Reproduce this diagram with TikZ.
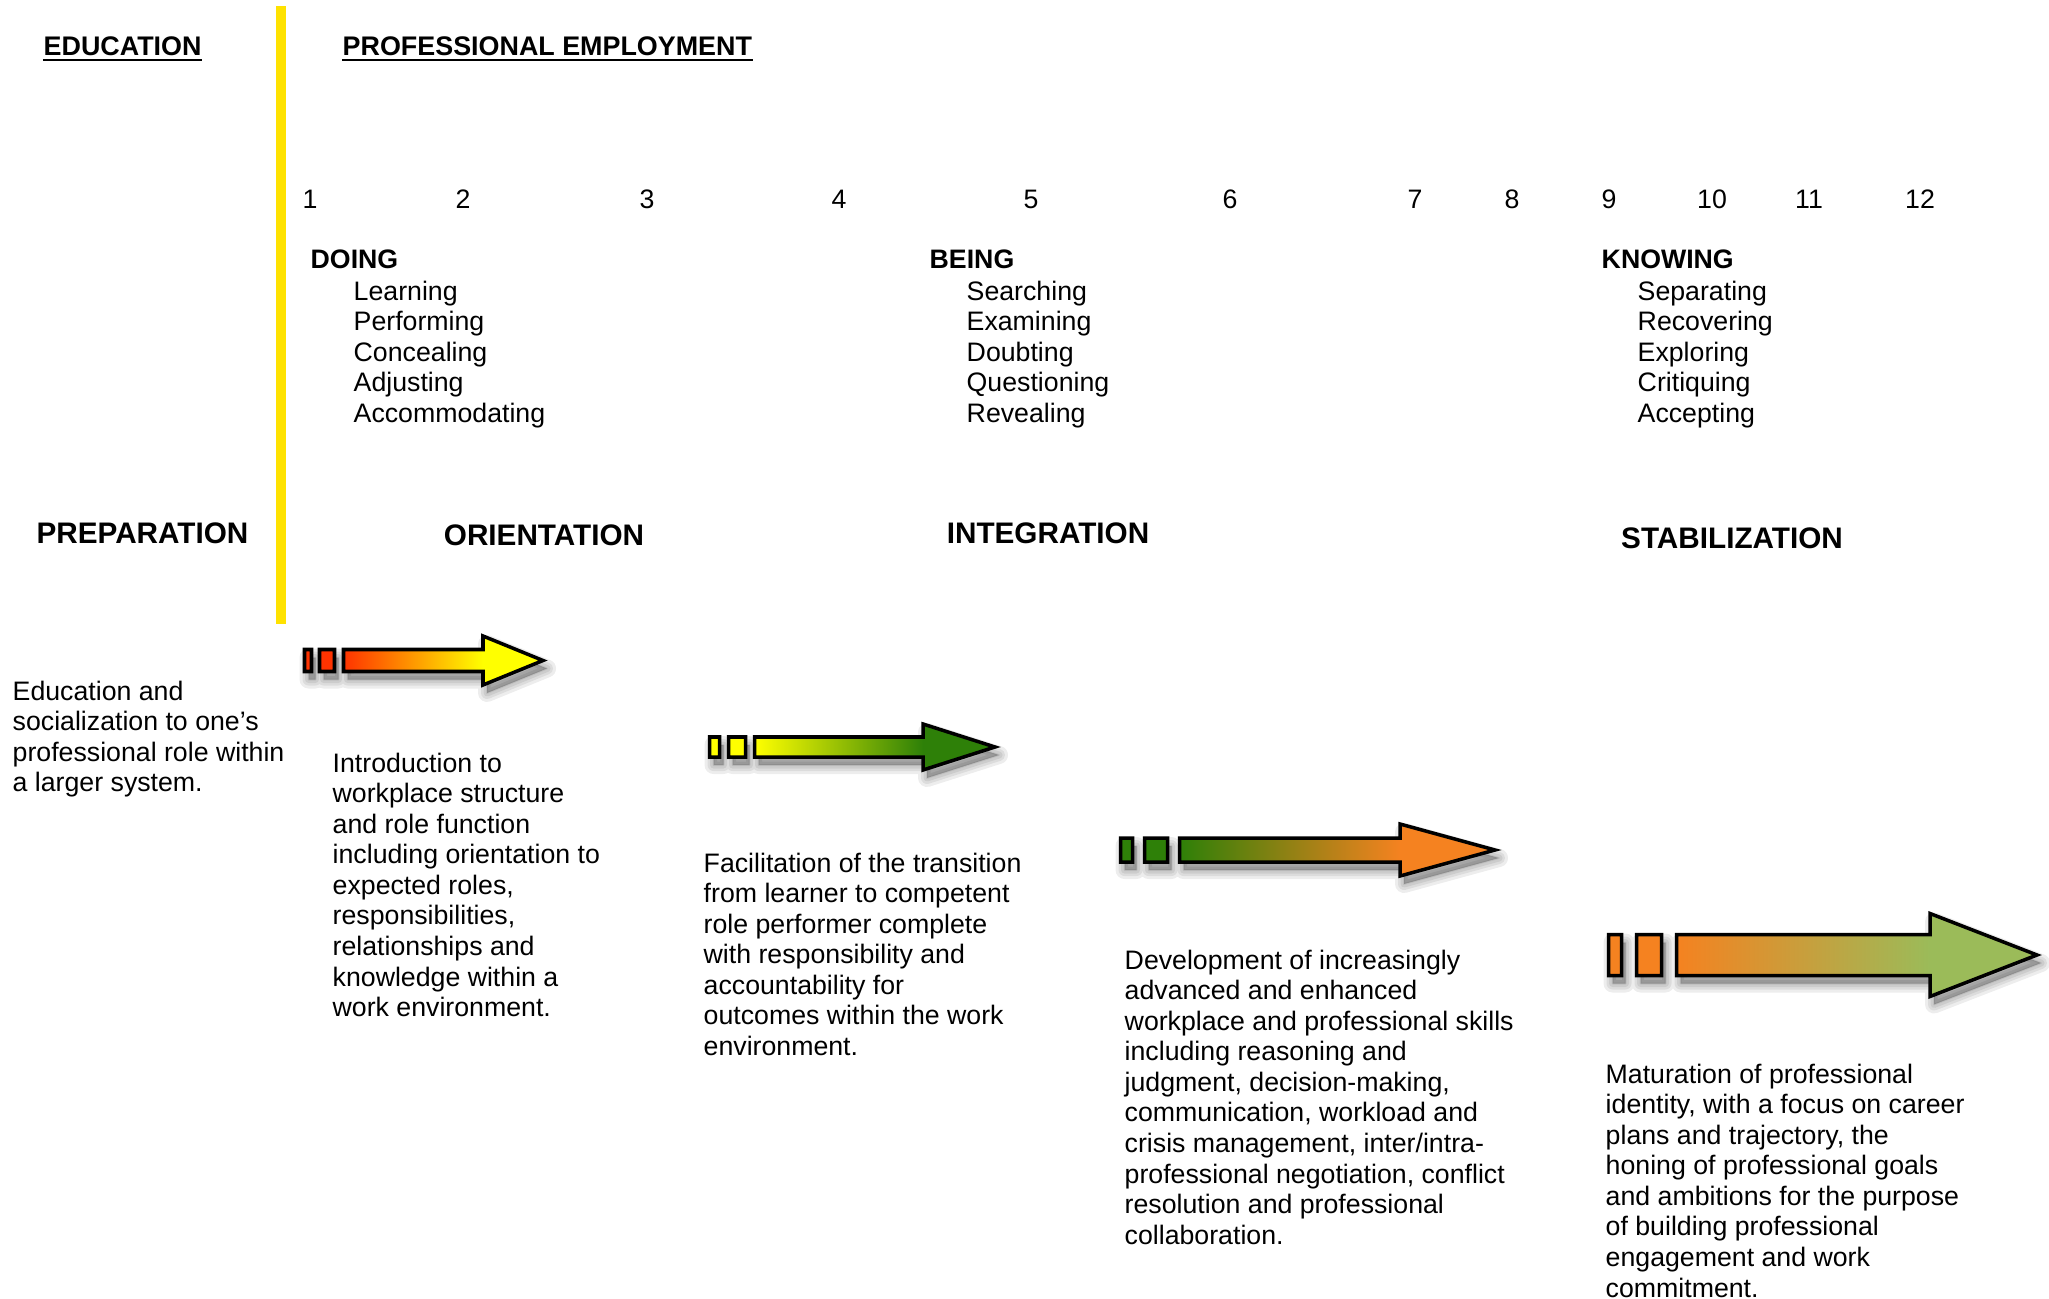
\documentclass[tikz,border=0pt]{standalone}
\usepackage{fontspec}
\setmainfont{Liberation Sans}
\usepackage{tikz}

\definecolor{baryellow}{HTML}{FFE200}
\definecolor{phasered}{HTML}{FF3300}
\definecolor{phaseyellow}{HTML}{FFFF00}
\definecolor{phasegreen}{HTML}{2E8008}
\definecolor{phaseorange}{HTML}{F58220}
\definecolor{phaseolive}{HTML}{9BBB59}

\newcommand{\bodyfont}{\fontsize{7.6pt}{8.7pt}\selectfont}
\newcommand{\phasefont}{\fontsize{8.45pt}{9.5pt}\selectfont\bfseries}

\begin{document}
\begin{tikzpicture}[x=1cm,y=1cm,
	desc/.style={inner sep=0pt,anchor=north west,align=left,font=\bodyfont},
	topic/.style={inner sep=0pt,anchor=base west,font=\bodyfont\bfseries},
	stepnum/.style={inner sep=0pt,anchor=base,font=\bodyfont},
	phasehead/.style={inner sep=0pt,anchor=base,font=\phasefont},
	rubric/.style={inner sep=0pt,anchor=base west,font=\fontsize{7.65pt}{9pt}\selectfont\bfseries},
	arrowline/.style={draw=black,line width=1pt,line join=miter}]
			\useasboundingbox (0,0) rectangle (20.49,-12.99);
			%\draw [help lines] (0,0) grid (20,-13);
			\fill[baryellow] (2.76,-0.06) rectangle (2.86,-6.24);
			\node[rubric] (educ) at (0.43,-0.55) {EDUCATION};
			\node[rubric] (profemp) at (3.42,-0.55) {PROFESSIONAL EMPLOYMENT};
			\draw[line width=0.7pt] ([yshift=-1.4pt]educ.base west) -- ([yshift=-1.4pt]educ.base east);
			\draw[line width=0.7pt] ([yshift=-1.4pt]profemp.base west) -- ([yshift=-1.4pt]profemp.base east);
			% steps along the top
			\foreach \n/\x in {1/3.10,2/4.63,3/6.47,4/8.39,5/10.31,6/12.30,7/14.15,8/15.12,9/16.09,10/17.12,11/18.09,12/19.20}
				\node[stepnum] (num\n) at (\x,-2.086) {\n};
			\node[topic] (doing) at (3.10,-2.686) {DOING};
			\node[desc] (doinglist) at (3.53,-2.80) {Learning\\Performing\\Concealing\\Adjusting\\Accommodating};
			\node[topic] (being) at (9.29,-2.686) {BEING};
			\node[desc] (beinglist) at (9.66,-2.80) {Searching\\Examining\\Doubting\\Questioning\\Revealing};
			\node[topic] (knowing) at (16.01,-2.686) {KNOWING};
			\node[desc] (knowinglist) at (16.37,-2.80) {Separating\\Recovering\\Exploring\\Critiquing\\Accepting};
			% phases
			\node[phasehead] (prep) at (1.425,-5.43) {PREPARATION};
			\node[phasehead] (orient) at (5.44,-5.45) {ORIENTATION};
			\node[phasehead] (integ) at (10.48,-5.43) {INTEGRATION};
			\node[phasehead] (stab) at (17.32,-5.48) {STABILIZATION};
			% arrows
			\foreach \ra/\rb/\rc/\rd/\bs/\hb/\tp/\yc/\bh/\hh/\ca/\cb in {
				3.045/3.115/3.195/3.345/3.435/4.83/5.43/-6.605/0.11/0.245/phasered/phaseyellow,
				7.095/7.195/7.285/7.455/7.545/9.23/9.95/-7.47/0.10/0.23/phaseyellow/phasegreen,
				11.205/11.325/11.445/11.675/11.795/14.00/14.95/-8.50/0.12/0.26/phasegreen/phaseorange,
				16.085/16.215/16.365/16.615/16.765/19.30/20.37/-9.55/0.205/0.415/phaseorange/phaseolive}{
				\begin{scope}[shift={(0.04,-0.08)}]
					\foreach \w in {0.18,0.12,0.07,0.02}
						\filldraw[black,opacity=0.07,line width=\w cm,line join=round]
							({\ra},{\yc-\bh}) rectangle ({\rb},{\yc+\bh})
							({\rc},{\yc-\bh}) rectangle ({\rd},{\yc+\bh})
							({\bs},{\yc-\bh}) -- ({\hb},{\yc-\bh}) -- ({\hb},{\yc-\hh}) -- ({\tp},{\yc})
							-- ({\hb},{\yc+\hh}) -- ({\hb},{\yc+\bh}) -- ({\bs},{\yc+\bh}) -- cycle;
				\end{scope}
				\fill[\ca] ({\ra},{\yc-\bh}) rectangle ({\rb},{\yc+\bh});
				\fill[\ca] ({\rc},{\yc-\bh}) rectangle ({\rd},{\yc+\bh});
				\shade[left color=\ca,right color=\cb] ({\bs},{\yc-\bh}) rectangle ({\hb},{\yc+\bh});
				\fill[\cb] ({\hb},{\yc-\hh}) -- ({\tp},{\yc}) -- ({\hb},{\yc+\hh}) -- cycle;
				\draw[arrowline]
					({\ra},{\yc-\bh}) rectangle ({\rb},{\yc+\bh})
					({\rc},{\yc-\bh}) rectangle ({\rd},{\yc+\bh})
					({\bs},{\yc-\bh}) -- ({\hb},{\yc-\bh}) -- ({\hb},{\yc-\hh}) -- ({\tp},{\yc})
					-- ({\hb},{\yc+\hh}) -- ({\hb},{\yc+\bh}) -- ({\bs},{\yc+\bh}) -- cycle;
			}
			% descriptions
			\node[desc] (prepnote) at (0.12,-6.80) {Education and\\socialization to one's\\professional role within\\a larger system.};
			\node[desc] (orientnote) at (3.32,-7.52) {Introduction to\\workplace structure\\and role function\\including orientation to\\expected roles,\\responsibilities,\\relationships and\\knowledge within a\\work environment.};
			\node[desc] (transnote) at (7.03,-8.52) {Facilitation of the transition\\from learner to competent\\role performer complete\\with responsibility and\\accountability for\\outcomes within the work\\environment.};
			\node[desc] (devnote) at (11.24,-9.49) {Development of increasingly\\advanced and enhanced\\workplace and professional skills\\including reasoning and\\judgment, decision-making,\\communication, workload and\\crisis management, inter/intra-\\professional negotiation, conflict\\resolution and professional\\collaboration.};
			\node[desc] (maturenote) at (16.05,-10.63) {Maturation of professional\\identity, with a focus on career\\plans and trajectory, the\\honing of professional goals\\and ambitions for the purpose\\of building professional\\engagement and work\\commitment.};
		\end{tikzpicture}
\end{document}
